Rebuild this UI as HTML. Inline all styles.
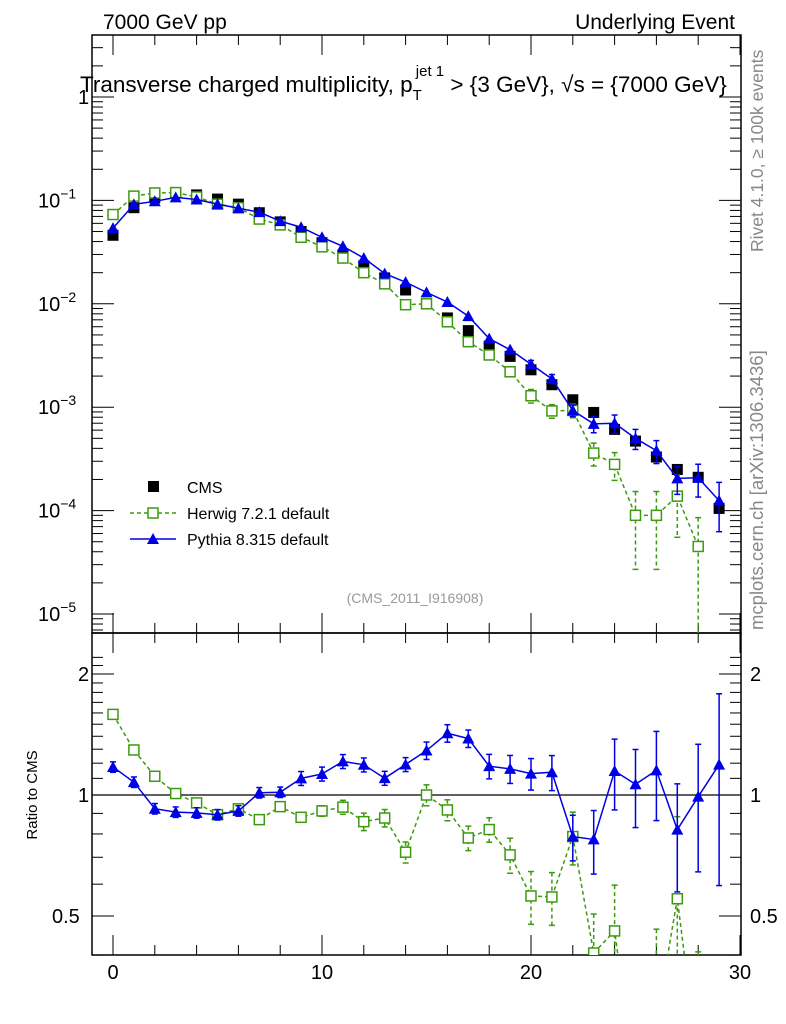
<!DOCTYPE html>
<html><head><meta charset="utf-8"><style>
html,body{margin:0;padding:0;background:#fff;overflow:hidden}
svg{display:block}
svg text{font-family:"Liberation Sans",sans-serif}
</style></head><body>
<svg id="c" width="786" height="1024" xmlns="http://www.w3.org/2000/svg">
<text x="103" y="29" font-size="21">7000 GeV pp</text>
<text x="735" y="29" font-size="21" text-anchor="end">Underlying Event</text>
<text x="80" y="92" font-size="22.5">Transverse charged multiplicity, p<tspan font-size="15" dy="8">T</tspan><tspan font-size="15" dy="-24" dx="-6">jet 1</tspan><tspan dy="16"> &gt; {3 GeV}, √s = {7000 GeV}</tspan></text>
<text transform="translate(763,252) rotate(-90)" font-size="17.5" fill="#888">Rivet 4.1.0, ≥ 100k events</text>
<text transform="translate(763,630) rotate(-90)" font-size="18.5" fill="#888">mcplots.cern.ch [arXiv:1306.3436]</text>
<text x="415" y="603" font-size="14" fill="#999" text-anchor="middle">(CMS_2011_I916908)</text>
<text transform="translate(37,795) rotate(-90)" font-size="15" text-anchor="middle">Ratio to CMS</text>
<g id="axes"></g>
<g id="marks"></g>
<g>
<rect x="148" y="481" width="11" height="11" fill="#000"/>
<text x="187" y="493" font-size="16">CMS</text>
<line x1="130" y1="513" x2="176" y2="513" stroke="#3c9a0f" stroke-width="1.5" stroke-dasharray="4,3"/>
<rect x="148" y="508" width="10" height="10" fill="#fff" stroke="#3c9a0f" stroke-width="1.5"/>
<text x="187" y="519" font-size="16">Herwig 7.2.1 default</text>
<line x1="130" y1="539" x2="176" y2="539" stroke="#0000e6" stroke-width="1.5"/>
<path d="M153,533 L159,544 L147,544 Z" fill="#0000e6"/>
<text x="187" y="545" font-size="16">Pythia 8.315 default</text>
</g>
</svg>
<script>
const xs=[0,1,2,3,4,5,6,7,8,9,10,11,12,13,14,15,16,17,18,19,20,21,22,23,24,25,26,27,28,29];
const cms=[0.046,0.085,0.106,0.118,0.113,0.103,0.092,0.076,0.062,0.050,0.039,0.0297,0.0233,0.0178,0.0136,0.0100,0.0073,0.0055,0.0039,0.0031,0.0023,0.00165,0.00118,0.00089,0.00061,0.00047,0.00033,0.00025,0.00021,0.000105];
const herwig=[0.073,0.110,0.118,0.119,0.108,0.092,0.085,0.066,0.058,0.044,0.0356,0.0277,0.020,0.0156,0.0098,0.0100,0.0067,0.0043,0.0032,0.0022,0.00129,0.00092,0.00093,0.00036,0.00028,0.00009,0.00009,0.000138,0.000045];
const herwigErr=[0.02,0.02,0.02,0.02,0.02,0.02,0.02,0.02,0.02,0.02,0.03,0.04,0.05,0.05,0.06,0.06,0.06,0.07,0.07,0.1,0.15,0.15,0.15,0.25,0.3,0.7,0.7,0.6,0.9];
const pythia=[0.054,0.0915,0.098,0.107,0.102,0.092,0.084,0.077,0.063,0.055,0.044,0.036,0.0277,0.0196,0.0162,0.0129,0.0104,0.0076,0.0046,0.0036,0.0026,0.00188,0.00093,0.00069,0.0007,0.0005,0.00038,0.000205,0.000208,0.000125];
const pythiaErr=[0.03,0.03,0.03,0.03,0.03,0.03,0.03,0.03,0.03,0.04,0.04,0.04,0.04,0.04,0.04,0.05,0.05,0.05,0.07,0.08,0.09,0.1,0.13,0.18,0.2,0.22,0.25,0.3,0.35,0.5];
const xTicks=[0,10,20,30];
const yTicks=[0,-1,-2,-3,-4,-5];
const rTicks=[0.5,1,2];

const NS="http://www.w3.org/2000/svg";
const L=92,R=741,T=35,MB=633,RB=955;
const X=v=>113+v*20.9;
const Y=v=>97-Math.log10(v)*103.4;
const RY=v=>795-Math.log2(v)*121;
const ax=document.getElementById('axes'),mk=document.getElementById('marks');
function el(p,tag,at){const e=document.createElementNS(NS,tag);for(const k in at)e.setAttribute(k,at[k]);p.appendChild(e);return e;}
function ln(p,x1,y1,x2,y2,st,w,da){const a={x1,y1,x2,y2,stroke:st||'#000','stroke-width':w||1};if(da)a['stroke-dasharray']=da;return el(p,'line',a);}
let f1=el(ax,'rect',{x:L,y:T,width:R-L,height:MB-T,fill:'none',stroke:'#000','stroke-width':1.5});


let f2=el(ax,'rect',{x:L,y:MB,width:R-L,height:RB-MB,fill:'none',stroke:'#000','stroke-width':1.5});


for(let v=-1;v<=30;v++){const x=X(v);if(x<L||x>R)continue;const maj=v%10===0;if(!maj&&v%2)continue;const l=maj?20:10;
 ln(ax,x,MB,x,MB-l);ln(ax,x,T,x,T+l);ln(ax,x,RB,x,RB-l);ln(ax,x,MB,x,MB+l);}
xTicks.forEach(v=>{const t=el(ax,'text',{x:X(v),y:979,'font-size':20,'text-anchor':'middle'});t.textContent=v;
 
 });
for(let d=0;d>=-6;d--){for(let m=1;m<10;m++){const y=Y(m*Math.pow(10,d));if(y<T||y>MB)continue;const l=m===1?22:11;ln(ax,L,y,L+l,y);ln(ax,R,y,R-l,y);}}
yTicks.forEach(d=>{const y=Y(Math.pow(10,d));const t=el(ax,'text',{x:d===0?78:38,y:y+7,'font-size':20});
 if(d===0)t.textContent='1';else{t.textContent='10';const s=el(t,'tspan',{dy:-9,'font-size':14});s.textContent=String(d).replace('-','−');}
 
 });
for(let v=0.4;v<=2.3;v+=0.1){const y=RY(v);if(y<MB||y>RB)continue;const maj=Math.abs(v-0.5)<1e-6||Math.abs(v-1)<1e-6||Math.abs(v-2)<1e-6;const l=maj?22:11;ln(ax,L,y,L+l,y);ln(ax,R,y,R-l,y);}
rTicks.forEach(v=>{const y=RY(v);[v===0.5?52:78,750].forEach(x=>{const t=el(ax,'text',{x:x,y:y+7,'font-size':20});t.textContent=v;
 
 });});
ln(ax,L,RY(1),R,RY(1),'#000',1.2);
const defs=el(document.getElementById('c'),'defs',{});
const c1=el(defs,'clipPath',{id:'cm'});el(c1,'rect',{x:L,y:T,width:R-L,height:MB-T});
const c2=el(defs,'clipPath',{id:'cr'});el(c2,'rect',{x:L,y:MB,width:R-L,height:RB-MB});
const gm=el(mk,'g',{'clip-path':'url(#cm)'}),gr=el(mk,'g',{'clip-path':'url(#cr)'});
function series(g,vals,errs,fy,col,dash,shape,name){
 let d='';vals.forEach((v,i)=>{d+=(i?'L':'M')+X(xs[i])+','+fy(v);});
 el(g,'path',{d,fill:'none',stroke:col,'stroke-width':1.5,'stroke-dasharray':dash||'none'});
 vals.forEach((v,i)=>{const x=X(xs[i]);const e=errs[i];const y1=fy(v*(1+e)),y2=fy(Math.max(v*(1-e),v*0.01));
  if(Math.abs(y2-y1)>8){ln(g,x,y1,x,y2,col,1.5,dash);ln(g,x-3,y1,x+3,y1,col,1.5);ln(g,x-3,y2,x+3,y2,col,1.5);}
  const y=fy(v);let m;
  if(shape==='sq')m=el(g,'rect',{x:x-5,y:y-5,width:10,height:10,fill:'#fff',stroke:col,'stroke-width':1.5});
  else m=el(g,'path',{d:`M${x},${y-6}L${x+6},${y+5}L${x-6},${y+5}Z`,fill:col});
  
  });
}
cms.forEach((v,i)=>{const r=el(gm,'rect',{x:X(xs[i])-5.5,y:Y(v)-5.5,width:11,height:11,fill:'#000'});
 
 });
series(gm,herwig,herwigErr,Y,'#3c9a0f','4,3','sq','herwig-point');
series(gm,pythia,pythiaErr,Y,'#0000e6',null,'tri','pythia-point');
series(gr,herwig.map((v,i)=>v/cms[i]),herwigErr,RY,'#3c9a0f','4,3','sq','herwig-ratio-point');
series(gr,pythia.map((v,i)=>v/cms[i]),pythiaErr,RY,'#0000e6',null,'tri','pythia-ratio-point');
</script>
</body></html>
